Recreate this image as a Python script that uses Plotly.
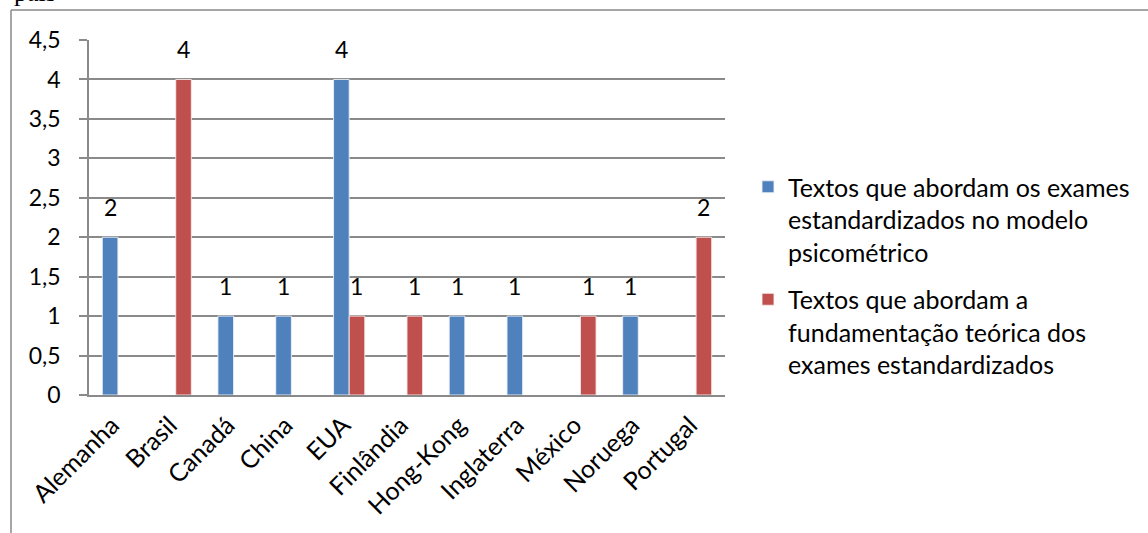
import plotly.graph_objects as go

categories = ["Alemanha", "Brasil", "Canadá", "China", "EUA", "Finlândia",
              "Hong-Kong", "Inglaterra", "México", "Noruega", "Portugal"]
serie_psicometrico = [2, None, 1, 1, 4, None, 1, 1, None, 1, None]
serie_fundamentacao = [None, 4, None, None, 1, 1, None, None, 1, None, 2]
nome_psicometrico = "Textos que abordam os exames<br>estandardizados no modelo<br>psicométrico"
nome_fundamentacao = "Textos que abordam a<br>fundamentação teórica dos<br>exames estandardizados"
y_ticks = [0, 0.5, 1, 1.5, 2, 2.5, 3, 3.5, 4, 4.5]

W, H = 1148, 533
L, R, T, B = 89, 725, 40, 395
FONT = "Lato"
BLUE = "#4F81BD"
RED = "#C0504D"
GRID = "#8a8a8a"


def px_x(p):
    return (p - L) / (R - L)


def px_y(p):
    return (B - p) / (B - T)


fig = go.Figure()
fig.add_trace(go.Bar(x=categories, y=serie_psicometrico, name=nome_psicometrico,
                     legendgroup="a",
                     marker=dict(color=BLUE, line=dict(color="rgba(235,240,248,0.9)", width=1))))
fig.add_trace(go.Bar(x=categories, y=serie_fundamentacao, name=nome_fundamentacao,
                     legendgroup="b",
                     marker=dict(color=RED, line=dict(color="rgba(248,235,235,0.9)", width=1))))

# data labels
bar_half = (R - L) / len(categories) * 0.27 / 2
for vals, shift in ((serie_psicometrico, -bar_half), (serie_fundamentacao, bar_half)):
    for c, v in zip(categories, vals):
        if v:
            fig.add_annotation(x=c, y=v, xref="x", yref="y", text=str(v), showarrow=False,
                               xshift=shift, yshift=14, yanchor="bottom",
                               font=dict(family=FONT, size=23, color="black"))

# outer frame and clipped caption
fig.add_shape(type="line", xref="paper", yref="paper", x0=px_x(11), x1=px_x(11),
              y0=px_y(10), y1=px_y(540), line=dict(color="#888888", width=1.5))
fig.add_shape(type="line", xref="paper", yref="paper", x0=px_x(11), x1=px_x(1160),
              y0=px_y(10), y1=px_y(10), line=dict(color="#888888", width=1.5))
fig.add_annotation(x=px_x(12), y=px_y(9), xref="paper", yref="paper", text="país",
                   showarrow=False, xanchor="left", yanchor="bottom",
                   font=dict(family="Liberation Serif", size=26, color="black"))

fig.update_layout(
    width=W, height=H,
    margin=dict(l=L, r=W - R, t=T, b=H - B, autoexpand=False),
    paper_bgcolor="white", plot_bgcolor="white",
    barmode="group", bargap=0.46, bargroupgap=0,
    separators=", ",
    font=dict(family=FONT, size=23, color="black"),
    showlegend=True,
    legend=dict(x=px_x(748), y=px_y(164), xanchor="left", yanchor="top",
                font=dict(family=FONT, size=25, color="black"),
                traceorder="grouped", tracegroupgap=12, valign="top",
                bgcolor="rgba(0,0,0,0)"),
)
fig.update_xaxes(showgrid=False, showline=True, linecolor=GRID, linewidth=1.5,
                 ticks="", tickangle=-45, ticklabelstandoff=4, ticklabelshift=-6,
                 automargin=False, tickfont=dict(family=FONT, size=25))
fig.update_yaxes(range=[0, 4.5], tickvals=y_ticks, showgrid=True, gridcolor=GRID,
                 gridwidth=1.5, showline=True, linecolor=GRID, linewidth=1.5,
                 ticks="outside", ticklen=8, tickcolor=GRID, tickwidth=1.5,
                 ticklabelstandoff=14, zeroline=False, automargin=False,
                 tickfont=dict(family=FONT, size=23))

fig.write_html("out.html")
